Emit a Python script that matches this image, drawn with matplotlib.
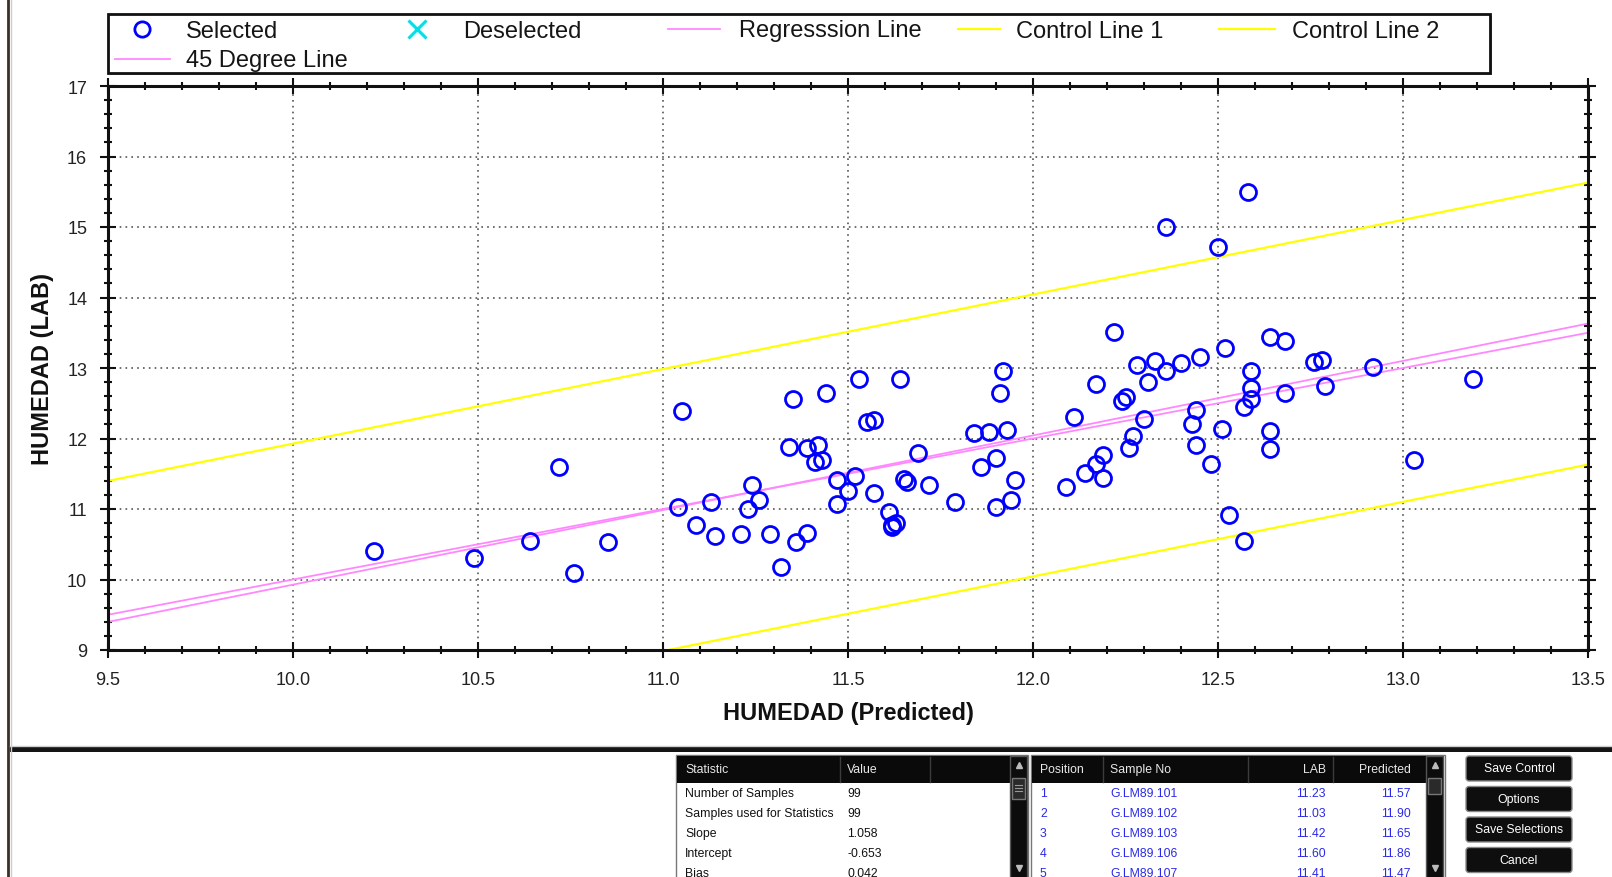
import numpy as np
import matplotlib.pyplot as plt
from matplotlib.patches import Rectangle, FancyBboxPatch
from matplotlib.ticker import MultipleLocator, FormatStrFormatter

plt.rcParams['font.family'] = ['Liberation Sans', 'DejaVu Sans']

# ------------------------------------------------------------------
# data: predicted vs lab moisture
# ------------------------------------------------------------------
pred = [10.22, 10.49, 10.64, 10.72, 10.76, 10.85, 11.05, 11.04, 11.09, 11.13,
        11.14, 11.21, 11.23, 11.24, 11.26, 11.29, 11.32, 11.34, 11.35, 11.36,
        11.39, 11.39, 11.41, 11.42, 11.43, 11.44, 11.47, 11.47, 11.50, 11.52,
        11.53, 11.55, 11.57, 11.57, 11.61, 11.62, 11.63, 11.64, 11.65, 11.66,
        11.69, 11.72, 11.79, 11.84, 11.86, 11.88, 11.90, 11.90, 11.91, 11.92,
        11.93, 11.94, 11.95, 12.09, 12.11, 12.14, 12.17, 12.17, 12.19, 12.19,
        12.22, 12.24, 12.25, 12.26, 12.27, 12.28, 12.30, 12.31, 12.33, 12.36,
        12.36, 12.40, 12.43, 12.44, 12.44, 12.45, 12.48, 12.50, 12.51, 12.52,
        12.53, 12.57, 12.57, 12.58, 12.59, 12.59, 12.59, 12.64, 12.64, 12.64,
        12.68, 12.68, 12.76, 12.78, 12.79, 12.92, 13.03, 13.19, 11.62]
lab = [10.40, 10.31, 10.55, 11.60, 10.09, 10.53, 12.39, 11.03, 10.78, 11.10,
       10.61, 10.65, 11.00, 11.34, 11.13, 10.64, 10.18, 11.88, 12.56, 10.53,
       10.66, 11.86, 11.66, 11.91, 11.69, 12.65, 11.41, 11.07, 11.26, 11.47,
       12.85, 12.23, 12.26, 11.23, 10.96, 10.74, 10.80, 12.85, 11.42, 11.39,
       11.79, 11.34, 11.10, 12.08, 11.60, 12.09, 11.73, 11.03, 12.64, 12.96,
       12.12, 11.13, 11.41, 11.31, 12.30, 11.51, 12.78, 11.64, 11.76, 11.44,
       13.51, 12.53, 12.59, 11.86, 12.04, 13.04, 12.28, 12.80, 13.10, 12.96,
       15.00, 13.07, 12.21, 11.91, 12.40, 13.16, 11.64, 14.72, 12.14, 13.28,
       10.91, 10.55, 12.45, 15.50, 12.56, 12.72, 12.96, 11.85, 13.44, 12.11,
       13.39, 12.64, 13.09, 13.12, 12.74, 13.01, 11.70, 12.84, 10.77]

slope = 1.058
intercept = -0.653
control_offset = 2.0

stat_names = ['Number of Samples', 'Samples used for Statistics', 'Slope',
              'Intercept', 'Bias']
stat_values = ['99', '99', '1.058', '-0.653', '0.042']

row_pos = ['1', '2', '3', '4', '5']
row_sample = ['G.LM89.101', 'G.LM89.102', 'G.LM89.103', 'G.LM89.106', 'G.LM89.107']
row_lab = ['11.23', '11.03', '11.42', '11.60', '11.41']
row_pred = ['11.57', '11.90', '11.65', '11.86', '11.47']

button_labels = ['Save Control', 'Options', 'Save Selections', 'Cancel']

# ------------------------------------------------------------------
W, H = 1612, 878
fig = plt.figure(figsize=(W / 100, H / 100), dpi=100)
fig.patch.set_facecolor('white')

PINK = '#ff88ff'
YELLOW = '#ffff00'
BLUE = '#0000ff'

ax = fig.add_axes([108 / W, 1 - 651 / H, (1588 - 108) / W, (651 - 87) / H])
xs = np.array([9.5, 13.5])
ax.plot(xs, xs, color=PINK, lw=1.3, zorder=2)
ax.plot(xs, slope * xs + intercept, color=PINK, lw=1.3, zorder=2)
ax.plot(xs, slope * xs + intercept + control_offset, color=YELLOW, lw=1.6, zorder=2)
ax.plot(xs, slope * xs + intercept - control_offset, color=YELLOW, lw=1.6, zorder=2)
ax.plot(pred, lab, 'o', mfc='none', mec=BLUE, ms=11.5, mew=2.0, zorder=3)

ax.set_xlim(9.5, 13.5)
ax.set_ylim(9, 17)
ax.xaxis.set_major_locator(MultipleLocator(0.5))
ax.xaxis.set_minor_locator(MultipleLocator(0.1))
ax.xaxis.set_major_formatter(FormatStrFormatter('%.1f'))
ax.yaxis.set_major_locator(MultipleLocator(1))
ax.yaxis.set_minor_locator(MultipleLocator(0.2))
ax.grid(True, which='major', color='#555555', linestyle=(0, (1, 2.5)), lw=1.2)
ax.set_axisbelow(True)
ax.tick_params(which='both', direction='inout', top=True, right=True,
               width=1.5, color='#111111', labelsize=13, labelcolor='#222222', pad=9)
ax.tick_params(which='major', length=12)
ax.tick_params(which='minor', length=6)
for s in ax.spines.values():
    s.set_linewidth(2.2)
    s.set_color('#111111')

ax.set_xlabel('HUMEDAD (Predicted)', fontsize=17, fontweight='bold', color='#111111')
ax.xaxis.label.set_va('center')
ax.xaxis.set_label_coords(0.5, -0.11)
ax.set_ylabel('HUMEDAD (LAB)', fontsize=17, fontweight='bold', color='#111111')
ax.yaxis.label.set_va('center')
ax.yaxis.set_label_coords(-0.0445, 0.5)

# ------------------------------------------------------------------
# overlay in pixel coordinates for legend box and the lower panels
ui = fig.add_axes([0, 0, 1, 1], zorder=5)
ui.set_xlim(0, W)
ui.set_ylim(H, 0)
ui.axis('off')

# legend
ui.add_patch(Rectangle((110, 17), 1382, 59, fc='#999999', ec='none'))
ui.add_patch(Rectangle((108, 15), 1382, 59, fc='white', ec='#111111', lw=2))
m1, m2 = 30, 60
t1, t2 = 37.5, 67
ui.plot([142], [m1], 'o', mfc='none', mec=BLUE, ms=11, mew=2.0)
ui.plot([417], [m1], 'x', color='#00e0e8', ms=13, mew=2.2)
ui.plot([668, 720], [m1, m1], color=PINK, lw=1.3)
ui.plot([958, 1000], [m1, m1], color=YELLOW, lw=1.6)
ui.plot([1219, 1275], [m1, m1], color=YELLOW, lw=1.6)
ui.plot([115, 170], [m2, m2], color=PINK, lw=1.3)
leg_font = dict(fontsize=17, va='baseline', ha='left', color='#151515')
ui.text(186, t1, 'Selected', **leg_font)
ui.text(463, t1, 'Deselected', **leg_font)
ui.text(739, t1, 'Regresssion Line', **leg_font)
ui.text(1016, t1, 'Control Line 1', **leg_font)
ui.text(1292, t1, 'Control Line 2', **leg_font)
ui.text(186, t2, '45 Degree Line', **leg_font)

# window frame lines
ui.plot([8, 8], [0, H], color='#3a3028', lw=2)
ui.plot([10.5, 10.5], [0, H], color='#cccccc', lw=1)
ui.add_patch(Rectangle((10, 748), W - 10, 5, fc='#141414', ec='none'))
ui.plot([10, W], [747, 747], color='#cfcfcf', lw=1)


def scrollbar(x0, thumb_h):
    ui.add_patch(Rectangle((x0, 757), 17, 130, fc='#0c0c0c', ec='#555555', lw=1))
    ui.plot([x0 + 8.5], [766], marker='^', color='#bbbbbb', ms=5)
    ui.plot([x0 + 8.5], [869], marker='v', color='#bbbbbb', ms=5)
    ui.add_patch(Rectangle((x0 + 2, 779), 13, thumb_h, fc='#2a2a2a', ec='#777777', lw=1))


tbl_font = dict(fontsize=8.8, va='center')

# statistics table
ui.add_patch(Rectangle((676, 756), 352, 130, fc='white', ec='#777777', lw=1))
ui.add_patch(Rectangle((677, 757), 334, 27, fc='#0a0a0a', ec='none'))
for sx in (840, 930):
    ui.plot([sx, sx], [758, 783], color='#3c3c3c', lw=1)
ui.text(685, 770, 'Statistic', color='#e8e8e8', ha='left', **tbl_font)
ui.text(847, 770, 'Value', color='#e8e8e8', ha='left', **tbl_font)
for i, (n, v) in enumerate(zip(stat_names, stat_values)):
    y = 794 + 20 * i
    ui.text(685, y, n, color='#111111', ha='left', **tbl_font)
    ui.text(847, y, v, color='#111111', ha='left', **tbl_font)
scrollbar(1010, 21)
for k in range(3):
    ui.plot([1015, 1022], [786 + 3 * k, 786 + 3 * k], color='#999999', lw=0.8)

# sample table
ui.add_patch(Rectangle((1031, 756), 414, 130, fc='white', ec='#777777', lw=1))
ui.add_patch(Rectangle((1032, 757), 394, 27, fc='#0a0a0a', ec='none'))
for sx in (1103, 1248, 1333):
    ui.plot([sx, sx], [758, 783], color='#3c3c3c', lw=1)
ui.text(1040, 770, 'Position', color='#e8e8e8', ha='left', **tbl_font)
ui.text(1110, 770, 'Sample No', color='#e8e8e8', ha='left', **tbl_font)
ui.text(1326, 770, 'LAB', color='#e8e8e8', ha='right', **tbl_font)
ui.text(1411, 770, 'Predicted', color='#e8e8e8', ha='right', **tbl_font)
TBLUE = '#2a2ae6'
for i in range(len(row_pos)):
    y = 794 + 20 * i
    ui.text(1040, y, row_pos[i], color=TBLUE, ha='left', **tbl_font)
    ui.text(1110, y, row_sample[i], color=TBLUE, ha='left', **tbl_font)
    ui.text(1326, y, row_lab[i], color=TBLUE, ha='right', **tbl_font)
    ui.text(1411, y, row_pred[i], color=TBLUE, ha='right', **tbl_font)
scrollbar(1426, 16)

# buttons
for i, lbl in enumerate(button_labels):
    y0 = 757 + 30.5 * i
    ui.add_patch(FancyBboxPatch((1466, y0), 106, 25, boxstyle='round,pad=0,rounding_size=3',
                                fc='#0e0e0e', ec='#8a8a8a', lw=1))
    ui.text(1519, y0 + 12.5, lbl, color='white', ha='center', **tbl_font)

fig.savefig('out.png', dpi=100)
